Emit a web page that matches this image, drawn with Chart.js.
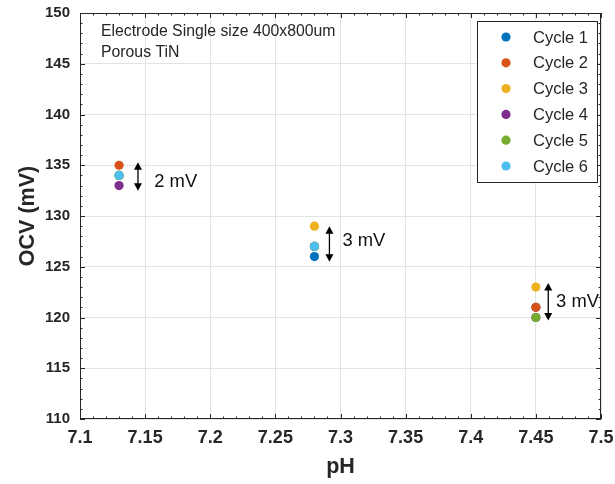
<!DOCTYPE html>
<html>
<head>
<meta charset="utf-8">
<script src="https://cdn.jsdelivr.net/npm/chart.js@4/dist/chart.umd.min.js"></script>
<style>
  html, body { margin: 0; padding: 0; background: #ffffff; }
  #wrap { width: 615px; height: 484px; position: relative; }
</style>
</head>
<body>
<div id="wrap"><canvas id="c" width="615" height="484"></canvas></div>
<script>
// ---- data ----
const PH = [7.13, 7.28, 7.45];
const CYCLE_LABELS = ['Cycle 1', 'Cycle 2', 'Cycle 3', 'Cycle 4', 'Cycle 5', 'Cycle 6'];
const CYCLE1 = [134, 126, 121];
const CYCLE2 = [135, 127, 121];
const CYCLE3 = [134, 129, 123];
const CYCLE4 = [133, 127, 120];
const CYCLE5 = [134, 127, 120];
const CYCLE6 = [134, 127, null];
const CYCLES = [CYCLE1, CYCLE2, CYCLE3, CYCLE4, CYCLE5, CYCLE6];
const COLORS = ['#0072BD', '#D95319', '#EDB120', '#7E2F8E', '#77AC30', '#4DBEEE'];
const X_TICKS = [7.1, 7.15, 7.2, 7.25, 7.3, 7.35, 7.4, 7.45, 7.5];
const Y_TICKS = [110, 115, 120, 125, 130, 135, 140, 145, 150];
// spread annotations (data units): arrow x, arrow top, arrow bottom, label x, label y, label
const SPREAD_X = [7.1445, 7.2915, 7.4595];
const SPREAD_TOP = [135.3, 129.0, 123.4];
const SPREAD_BOTTOM = [132.5, 125.5, 119.7];
const SPREAD_LABEL_X = [7.157, 7.3015, 7.4655];
const SPREAD_LABEL_Y = [133.4, 127.5, 121.5];
const SPREAD_LABELS = ['2 mV', '3 mV', '3 mV'];
const NOTE_LINES = ['Electrode Single size 400x800um', 'Porous TiN'];

const FONT = '"Liberation Sans", Arial, Helvetica, sans-serif';
const TXT = '#262626';

const datasets = CYCLES.map((vals, i) => ({
  label: CYCLE_LABELS[i],
  data: PH.map((x, j) => ({ x: x, y: vals[j] })),
  backgroundColor: COLORS[i],
  borderColor: COLORS[i],
  pointRadius: 4.6,
  pointHoverRadius: 4.6,
  borderWidth: 0,
  showLine: false,
  order: CYCLES.length - i
}));

function drawArrowHead(ctx, x, y, dir) {
  ctx.beginPath();
  ctx.moveTo(x, y);
  ctx.lineTo(x - 4, y - dir * 7.5);
  ctx.lineTo(x + 4, y - dir * 7.5);
  ctx.closePath();
  ctx.fill();
}

function noScalePadding(s) {
  s.paddingTop = 0; s.paddingBottom = 0; s.paddingLeft = 0; s.paddingRight = 0;
}

const deco = {
  id: 'deco',
  afterDatasetsDraw(chart) {
    const ctx = chart.ctx;
    const a = chart.chartArea;
    const xs = chart.scales.x, ys = chart.scales.y;
    ctx.save();
    // frame
    ctx.strokeStyle = TXT;
    ctx.lineWidth = 1;
    ctx.strokeRect(a.left + 0.5, a.top + 0.5, a.right - a.left - 1, a.bottom - a.top - 1);
    // ticks
    ctx.beginPath();
    const xMin = X_TICKS[0], xMax = X_TICKS[X_TICKS.length - 1];
    for (let k = 0; k <= Math.round((xMax - xMin) / 0.01); k++) {
      const v = xMin + k * 0.01;
      const px = Math.round(xs.getPixelForValue(v)) + 0.5;
      const len = (k % 5 === 0) ? 5 : 2.5;
      ctx.moveTo(px, a.bottom); ctx.lineTo(px, a.bottom - len);
      ctx.moveTo(px, a.top); ctx.lineTo(px, a.top + len);
    }
    const yMin = Y_TICKS[0], yMax = Y_TICKS[Y_TICKS.length - 1];
    for (let v = yMin; v <= yMax; v++) {
      const py = Math.round(ys.getPixelForValue(v)) + 0.5;
      const len = ((v - yMin) % 5 === 0) ? 5 : 2.5;
      ctx.moveTo(a.left, py); ctx.lineTo(a.left + len, py);
      ctx.moveTo(a.right, py); ctx.lineTo(a.right - len, py);
    }
    ctx.stroke();

    // note text
    ctx.fillStyle = TXT;
    ctx.font = '15.8px ' + FONT;
    ctx.textAlign = 'left';
    ctx.textBaseline = 'middle';
    ctx.fillText(NOTE_LINES[0], a.left + 21, a.top + 19);
    ctx.fillText(NOTE_LINES[1], a.left + 21, a.top + 39.5);

    // spread arrows
    ctx.strokeStyle = '#000';
    ctx.lineWidth = 1.3;
    for (let i = 0; i < SPREAD_X.length; i++) {
      const px = xs.getPixelForValue(SPREAD_X[i]);
      const pt = ys.getPixelForValue(SPREAD_TOP[i]);
      const pb = ys.getPixelForValue(SPREAD_BOTTOM[i]);
      ctx.fillStyle = '#000';
      ctx.beginPath();
      ctx.moveTo(px, pt + 3); ctx.lineTo(px, pb - 3);
      ctx.stroke();
      drawArrowHead(ctx, px, pt, -1);
      drawArrowHead(ctx, px, pb, 1);
      ctx.font = '18.4px ' + FONT;
      ctx.textAlign = 'left';
      ctx.textBaseline = 'middle';
      ctx.fillStyle = '#111';
      ctx.fillText(SPREAD_LABELS[i], xs.getPixelForValue(SPREAD_LABEL_X[i]), ys.getPixelForValue(SPREAD_LABEL_Y[i]));
    }

    // legend
    const lx = 477, ly = 21, lw = 120, lh = 161;
    ctx.fillStyle = '#fff';
    ctx.fillRect(lx, ly, lw, lh);
    ctx.strokeStyle = TXT;
    ctx.lineWidth = 1;
    ctx.strokeRect(lx + 0.5, ly + 0.5, lw, lh);
    ctx.font = '16.5px ' + FONT;
    ctx.textAlign = 'left';
    ctx.textBaseline = 'middle';
    chart.data.datasets.forEach((ds, i) => {
      const cy = ly + 16 + i * 25.8;
      ctx.fillStyle = ds.backgroundColor;
      ctx.beginPath();
      ctx.arc(lx + 29, cy, 4.6, 0, Math.PI * 2);
      ctx.fill();
      ctx.fillStyle = TXT;
      ctx.fillText(ds.label, lx + 56, cy + 1);
    });
    ctx.restore();
  }
};

new Chart(document.getElementById('c'), {
  type: 'scatter',
  data: { datasets },
  options: {
    responsive: false,
    animation: false,
    devicePixelRatio: 1,
    layout: { padding: { top: 13, right: 14, left: 0, bottom: 0 } },
    plugins: { legend: { display: false }, tooltip: { enabled: false } },
    scales: {
      x: {
        type: 'linear',
        min: 7.1, max: 7.5,
        afterBuildTicks: s => { s.ticks = X_TICKS.map(v => ({ value: v })); },
        afterFit: s => { s.height = 65; noScalePadding(s); },
        ticks: {
          padding: 8,
          color: TXT,
          font: { family: FONT, size: 18, weight: 'bold' },
          callback: v => String(+(+v).toFixed(2)),
          maxRotation: 0, autoSkip: false
        },
        grid: { color: '#e3e3e3', drawTicks: false, lineWidth: 1 },
        border: { display: false },
        title: {
          display: true, text: 'pH', color: TXT,
          font: { family: FONT, size: 21.5, weight: 'bold' },
          padding: { top: 0, bottom: 4 }
        }
      },
      y: {
        type: 'linear',
        min: 110, max: 150,
        afterBuildTicks: s => { s.ticks = Y_TICKS.map(v => ({ value: v })); },
        afterFit: s => { s.width = 80; noScalePadding(s); },
        ticks: {
          padding: 10,
          color: TXT,
          font: { family: FONT, size: 15, weight: 'bold' },
          autoSkip: false
        },
        grid: { color: '#e3e3e3', drawTicks: false, lineWidth: 1 },
        border: { display: false },
        title: {
          display: true, text: 'OCV (mV)', color: TXT,
          font: { family: FONT, size: 21.5, weight: 'bold' },
          padding: { top: 15, bottom: 0 }
        }
      }
    }
  },
  plugins: [deco]
});
</script>
</body>
</html>
